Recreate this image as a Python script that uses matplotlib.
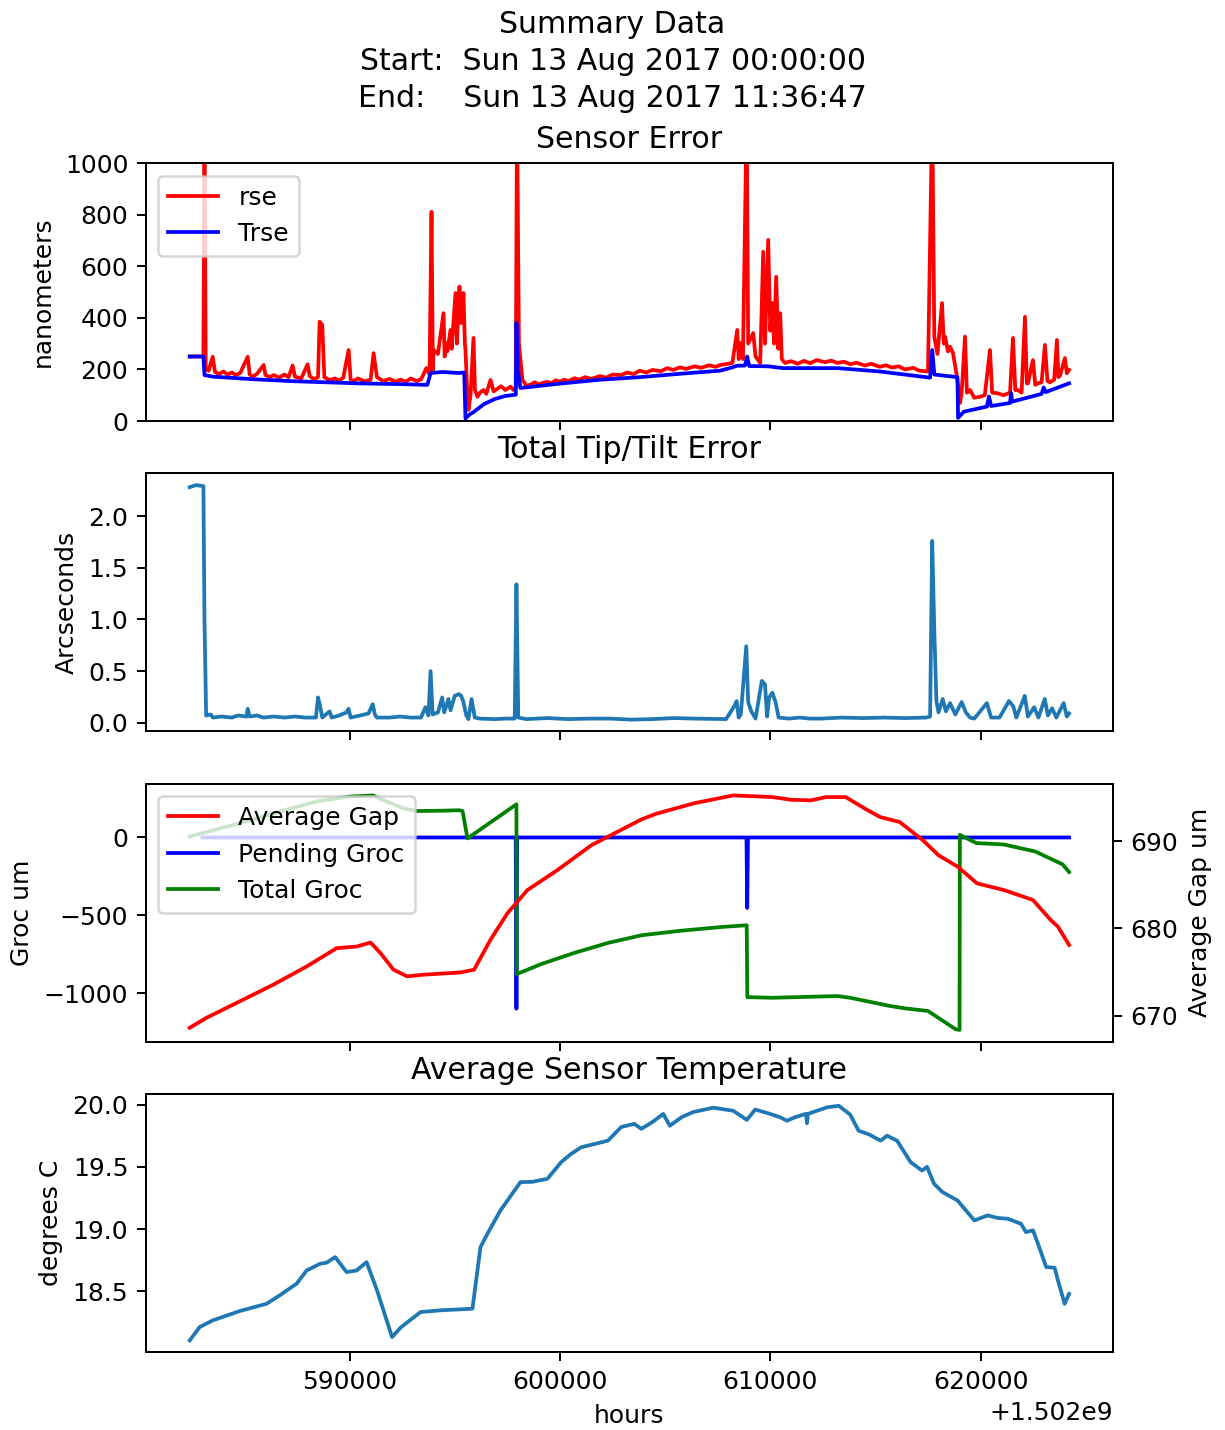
import matplotlib
matplotlib.use("Agg")
import matplotlib.pyplot as plt
from matplotlib.ticker import ScalarFormatter
import numpy as np

# start of the run (unix seconds), all times below are seconds after it
T0 = 1502582400

# sensor error (nanometers)
rse_t = [0, 650, 700, 760, 900, 1092, 1200, 1400, 1600, 1800, 2000, 2200, 2400, 2755, 2850,
         3000, 3200, 3515, 3600, 3800, 4000, 4250, 4500, 4700, 4892, 5000, 5300, 5605, 5700,
         5900, 6100, 6175, 6300, 6400, 6650, 6900, 7100, 7300, 7552, 7650, 7800, 8000, 8300,
         8600, 8740, 8900, 9200, 9500, 9800, 10000, 10300, 10500, 10800, 11000, 11250, 11400,
         11495, 11560, 11590, 11800, 12065, 12120, 12160, 12250, 12397, 12450, 12635, 12700,
         12825, 12900, 13015, 13080, 13110, 13200, 13252, 13350, 13490, 13560, 13680, 13800,
         13965, 14100, 14300, 14450, 14800, 15000, 15247, 15400, 15500, 15560, 15650, 15817,
         16000, 16197, 16400, 16600, 16800, 17000, 17200, 17400, 17600, 17800, 18000, 18300,
         18500, 18800, 19100, 19500, 19800, 20100, 20500, 20800, 21100, 21400, 21700, 22000,
         22400, 22700, 23000, 23300, 23600, 24000, 24300, 24700, 25000, 25222, 25800, 26030,
         26100, 26172, 26300, 26480, 26550, 26790, 26900, 27122, 27265, 27350, 27502, 27600,
         27692, 27780, 27882, 27980, 28072, 28150, 28300, 28600, 28900, 29200, 29500, 29800,
         30200, 30500, 30800, 31100, 31400, 31700, 32100, 32400, 32800, 33100, 33400, 33700,
         34000, 34400, 34700, 35100, 35300, 35400, 35550, 35767, 35850, 35910, 36050, 36147,
         36290, 36480, 36622, 36700, 36860, 36950, 37097, 37300, 37572, 37800, 38047, 38150,
         38380, 38700, 39000, 39140, 39250, 39377, 39550, 39710, 39800, 39852, 40090, 40200,
         40327, 40500, 40660, 40780, 40897, 41100, 41230, 41300, 41372, 41610, 41700, 41807]
rse = [250, 250, 1200, 200, 195, 249, 190, 182, 192, 180, 188, 178, 186, 249, 180,
       172, 183, 217, 178, 170, 178, 168, 180, 170, 215, 172, 165, 220, 175,
       162, 170, 385, 372, 170, 158, 165, 156, 168, 275, 160, 155, 165, 154,
       160, 263, 170, 155, 163, 152, 160, 153, 165, 155, 162, 205, 180,
       811, 190, 275, 260, 418, 250, 302, 270, 353, 280, 496, 300,
       521, 380, 496, 300, 275, 100, 43, 100, 322, 120, 94, 110,
       120, 105, 159, 115, 135, 120, 133, 120, 130, 1200, 300, 159,
       138, 140, 150, 142, 148, 152, 146, 158, 152, 160, 155, 166,
       160, 170, 163, 174, 168, 180, 178, 188, 182, 195, 188, 198,
       193, 205, 198, 208, 202, 212, 206, 216, 210, 217, 225, 353,
       240, 302, 240, 1200, 300, 341, 250, 225, 656, 300, 702, 350,
       457, 300, 559, 280, 418, 240, 225, 232, 222, 233, 224, 236,
       228, 234, 225, 230, 220, 226, 215, 222, 210, 216, 207, 212,
       200, 206, 195, 192, 1200, 327, 260, 457, 300, 327, 270, 288,
       263, 170, 70, 110, 327, 110, 120, 90, 94, 100, 275, 110,
       108, 100, 110, 322, 120, 120, 110, 404, 146, 146, 236, 140,
       146, 150, 295, 155, 150, 160, 314, 170, 175, 244, 185, 198]

trse_t = [0, 650, 700, 1100, 3000, 5000, 6500, 8000, 10000, 11300, 11450, 12000, 12800,
          13050, 13110, 13300, 13500, 14000, 14500, 15000, 15500, 15530, 15600, 15720, 16500,
          17600, 19500, 21400, 23300, 25200, 25800, 26000, 26400, 26500, 26600, 27500, 28200,
          30800, 32800, 35200, 35300, 35400, 36500, 36530, 36800, 37900, 38000, 38100, 39000,
          39050, 39100, 40500, 40600, 40700, 41807]
trse = [250, 250, 178, 172, 162, 154, 150, 146, 143, 140, 186, 190, 186,
        188, 10, 25, 35, 66, 85, 97, 102, 380, 200, 128, 135,
        145, 160, 170, 183, 195, 208, 214, 215, 250, 213, 212, 205,
        205, 192, 168, 275, 180, 170, 12, 36, 56, 95, 58, 70,
        109, 75, 105, 130, 112, 146]

# total tip/tilt error (arcseconds)
tilt_t = [0, 300, 650, 700, 780, 1000, 1100, 1500, 2000, 2300, 2700, 2755, 2850, 3200, 3500,
          4000, 4500, 5000, 5500, 6000, 6100, 6200, 6300, 6650, 6750, 7100, 7450, 7550, 7650,
          8100, 8500, 8700, 8800, 8900, 9500, 10000, 10500, 11000, 11200, 11350, 11450, 11550,
          11800, 12000, 12100, 12300, 12400, 12600, 12800, 12900, 13000, 13150, 13250, 13400,
          13550, 13800, 14500, 15000, 15450, 15532, 15620, 16000, 17000, 18000, 19000, 20000,
          21000, 22000, 23000, 24000, 25500, 25900, 26000, 26100, 26200, 26460, 26550, 26700,
          26900, 27200, 27350, 27450, 27550, 27700, 27850, 28000, 28500, 29000, 29500, 30000,
          31000, 32000, 33000, 34000, 35000, 35200, 35300, 35400, 35500, 35600, 35800, 35950,
          36150, 36400, 36700, 36900, 37100, 37300, 37900, 38100, 38500, 38950, 39150, 39300,
          39700, 39850, 40150, 40350, 40650, 40800, 41000, 41200, 41550, 41700, 41807]
tilt = [2.28, 2.30, 2.29, 1.0, 0.07, 0.08, 0.05, 0.06, 0.05, 0.07, 0.06, 0.135, 0.06, 0.07, 0.05,
        0.06, 0.05, 0.06, 0.05, 0.05, 0.245, 0.16, 0.05, 0.11, 0.05, 0.07, 0.10, 0.135, 0.05,
        0.07, 0.09, 0.18, 0.08, 0.05, 0.05, 0.06, 0.05, 0.05, 0.15, 0.07, 0.50, 0.08,
        0.10, 0.245, 0.10, 0.23, 0.12, 0.26, 0.277, 0.26, 0.21, 0.07, 0.035, 0.23,
        0.05, 0.04, 0.035, 0.04, 0.04, 1.34, 0.05, 0.035, 0.045, 0.035, 0.04, 0.04,
        0.03, 0.035, 0.045, 0.04, 0.035, 0.164, 0.21, 0.05, 0.08, 0.74, 0.20, 0.11,
        0.04, 0.405, 0.37, 0.06, 0.245, 0.29, 0.20, 0.05, 0.04, 0.05, 0.04, 0.04,
        0.05, 0.045, 0.05, 0.045, 0.05, 0.06, 1.76, 0.89, 0.21, 0.10, 0.23, 0.11,
        0.19, 0.08, 0.20, 0.10, 0.05, 0.04, 0.19, 0.05, 0.05, 0.21, 0.16, 0.05,
        0.26, 0.06, 0.15, 0.05, 0.23, 0.07, 0.14, 0.05, 0.19, 0.06, 0.09]

# groc (um)
pend_t = [600, 15500, 15532, 15565, 26470, 26505, 26540, 41807]
pend = [0, 0, -1100, 0, 0, -453, 0, 0]

total_t = [0, 1500, 3000, 4500, 6000, 7500, 8700, 9300, 10200, 10800, 12000, 12800, 12970,
           13205, 15532, 15545, 16700, 18300, 19900, 21500, 23300, 25300, 26480, 26510,
           27700, 30800, 31400, 33300, 34000, 35100, 36400, 36600, 36615, 37400, 38700,
           40200, 41000, 41500, 41807]
total = [6, 60, 115, 175, 230, 262, 270, 235, 185, 170, 172, 175, 170,
         -6, 213, -878, -814, -741, -677, -628, -600, -575, -564, -1026,
         -1030, -1019, -1030, -1083, -1098, -1115, -1231, -1237, 17, -36, -45,
         -90, -141, -173, -222]

gap_t = [0, 794, 2375, 3971, 5557, 6982, 7932, 8597, 9072, 9690, 10336, 11115, 12872,
         13518, 14297, 15105, 16055, 17480, 19095, 21470, 22182, 24011, 25840, 27692,
         28595, 29526, 30257, 31184, 32110, 32822, 33758, 34865, 35596, 36518, 37430,
         38712, 40090, 40931, 41278, 41807]
gap = [668.6, 669.74, 671.63, 673.54, 675.63, 677.73, 677.92, 678.38, 677.16, 675.26, 674.5,
       674.69, 674.95, 675.26, 678.69, 681.74, 684.4, 686.69, 689.54, 692.5, 693.16,
       694.38, 695.26, 695.07, 694.76, 694.69, 695.07, 695.07, 693.73, 692.78, 692.2,
       690.1, 688.4, 687.07, 685.17, 684.4, 683.26, 680.97, 680.2, 678.1]

# average sensor temperature (C)
temp_t = [0, 475, 1092, 2375, 3657, 4275, 5082, 5557, 6199, 6500, 6916, 7457, 7932, 8407,
          8906, 9619, 10022, 10972, 11922, 13442, 13822, 14155, 14772, 15722, 16300, 17005,
          17656, 18100, 18606, 19879, 20520, 21137, 21470, 22000, 22515, 22824, 23400, 23940,
          24890, 25840, 26486, 26885, 27500, 28072, 28390, 28800, 29300, 29345, 29390, 30305,
          30861, 31397, 31801, 32300, 32846, 33155, 33630, 34276, 34818, 35055, 35387, 35791,
          36504, 37302, 37938, 38400, 38893, 39520, 39757, 40090, 40327, 40722, 41121, 41278,
          41596, 41807]
temp = [18.107, 18.214, 18.267, 18.342, 18.401, 18.468, 18.562, 18.668, 18.722, 18.73, 18.775,
        18.655, 18.668, 18.735, 18.508, 18.133, 18.209, 18.334, 18.348, 18.361, 18.855,
        18.963, 19.15, 19.377, 19.38, 19.404, 19.537, 19.6, 19.657, 19.71, 19.82, 19.845,
        19.805, 19.86, 19.925, 19.83, 19.9, 19.94, 19.975, 19.95, 19.877, 19.96, 19.93,
        19.898, 19.87, 19.9, 19.925, 19.85, 19.925, 19.978, 19.99, 19.92, 19.79, 19.76,
        19.71, 19.75, 19.71, 19.537, 19.47, 19.5, 19.364, 19.297, 19.23, 19.07, 19.11,
        19.09, 19.083, 19.043, 18.976, 18.99, 18.883, 18.695, 18.69, 18.588, 18.4, 18.48]


def abs_time(t):
    return T0 + np.array(t, dtype=float)


fig, axes = plt.subplots(4, 1, sharex=True, figsize=(1225 / 180, 1430 / 180), dpi=180)
fig.subplots_adjust(left=0.119, right=0.9086, top=0.886, bottom=0.0545, hspace=0.203)
ax1, ax2, ax3, ax4 = axes

fig.suptitle("Summary Data\nStart:  Sun 13 Aug 2017 00:00:00\nEnd:    Sun 13 Aug 2017 11:36:47",
             y=0.993, linespacing=1.35)

# sensor error
ax1.plot(abs_time(rse_t), rse, 'r', label='rse')
ax1.plot(abs_time(trse_t), trse, 'b', label='Trse')
ax1.set_ylim(0, 1000)
ax1.set_title("Sensor Error")
ax1.set_ylabel("nanometers")
ax1.legend(loc='upper left')

# tip/tilt
ax2.plot(abs_time(tilt_t), tilt)
ax2.set_title("Total Tip/Tilt Error")
ax2.set_ylabel("Arcseconds")

# groc and gap
ax3b = ax3.twinx()
l_pend, = ax3.plot(abs_time(pend_t), pend, 'b', label='Pending Groc')
l_total, = ax3.plot(abs_time(total_t), total, 'g', label='Total Groc')
l_gap, = ax3b.plot(abs_time(gap_t), gap, 'r', label='Average Gap')
ax3b.set_ylim(667.0, 696.6)
ax3.set_ylabel("Groc um")
ax3b.set_ylabel("Average Gap um")
ax3.legend([l_gap, l_pend, l_total], ['Average Gap', 'Pending Groc', 'Total Groc'],
           loc='upper left')

# temperature
ax4.plot(abs_time(temp_t), temp)
ax4.set_title("Average Sensor Temperature")
ax4.set_ylabel("degrees C")
ax4.set_xlabel("hours")

fmt = ScalarFormatter(useOffset=1502000000)
ax4.xaxis.set_major_formatter(fmt)

fig.savefig("out.png", dpi=180)
